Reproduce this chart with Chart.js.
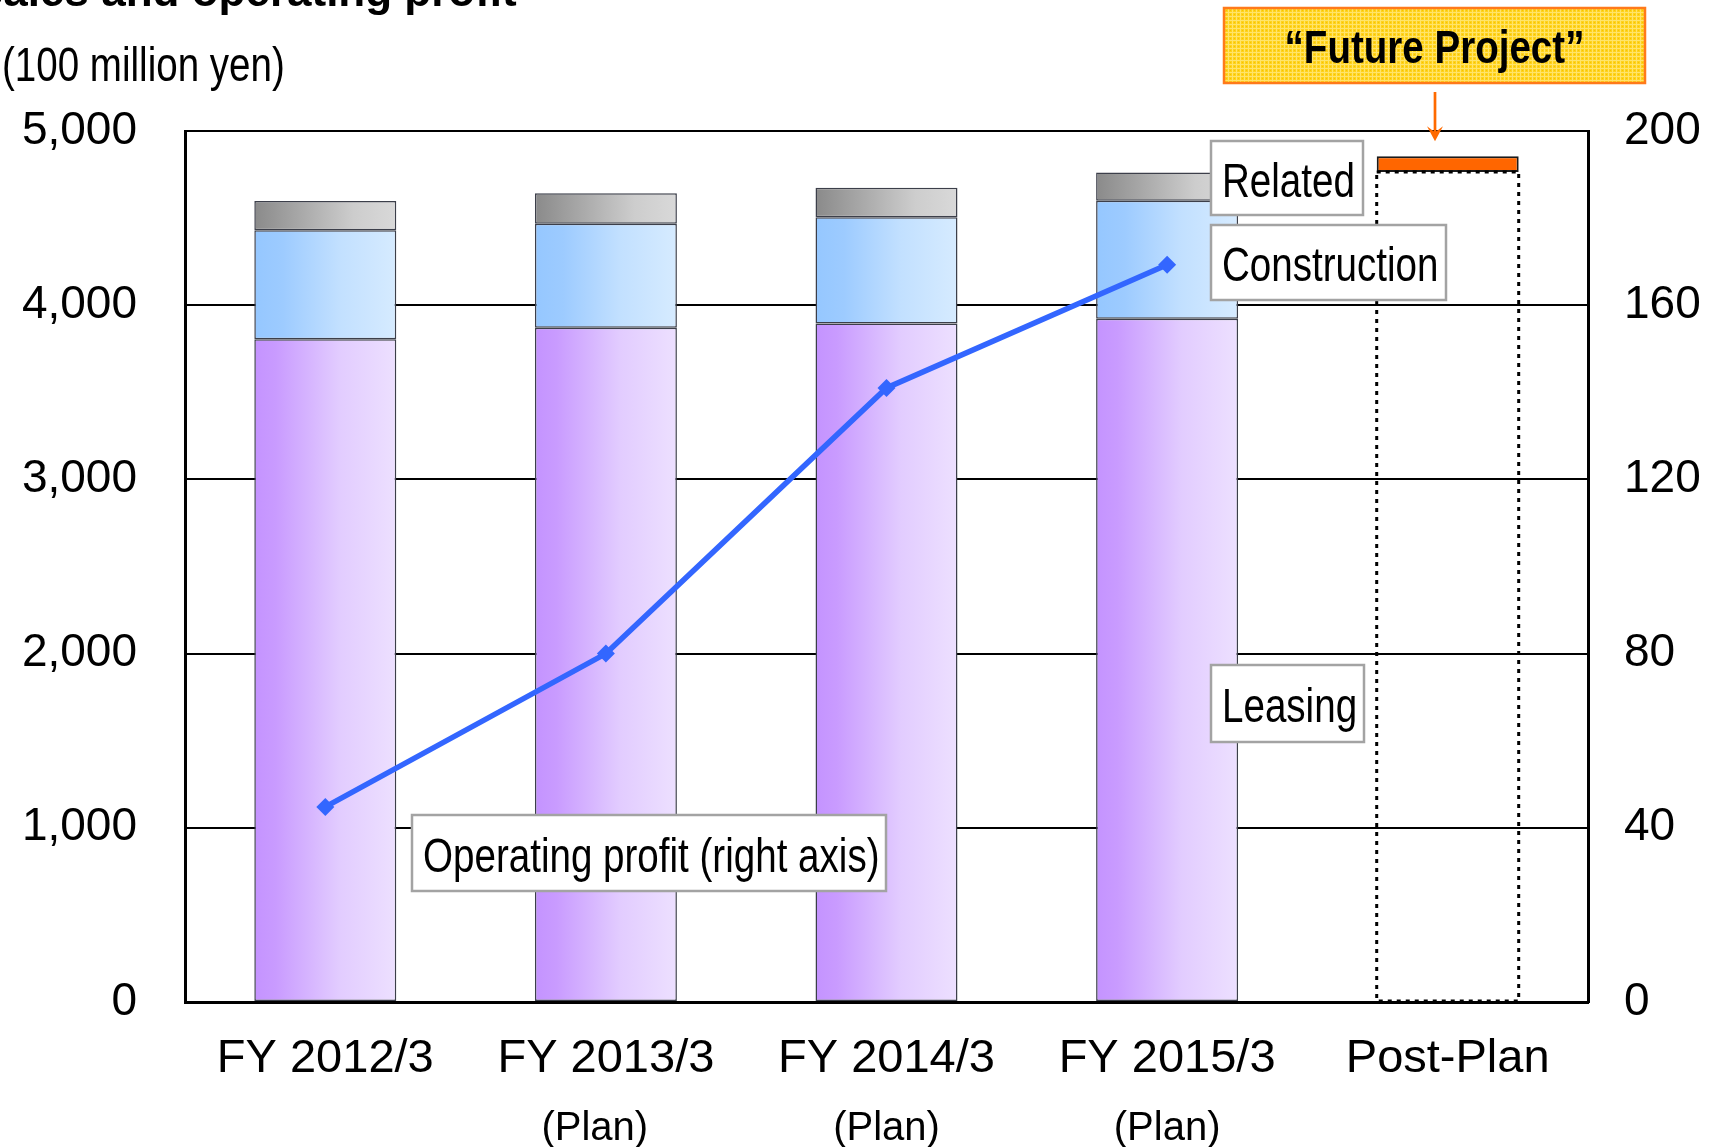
<!DOCTYPE html>
<html><head><meta charset="utf-8">
<script src="https://cdn.jsdelivr.net/npm/chart.js@4.4.1/dist/chart.umd.min.js"></script>
<style>html,body{margin:0;padding:0;background:#fff;overflow:hidden}#wrap{width:1715px;height:1147px;position:relative}canvas{display:block}</style>
</head><body><div id="wrap"><canvas id="c" width="1715" height="1147"></canvas></div>
<script>
// ---------- data ----------
const categories = ['FY 2012/3', 'FY 2013/3', 'FY 2014/3', 'FY 2015/3', 'Post-Plan'];
const planLabels = ['', '(Plan)  ', '(Plan)', '(Plan)', ''];
const leasing = [3805, 3870, 3895, 3922, null];
const construction = [625, 597, 610, 678, null];
const related = [168, 175, 169, 162, null];
const postPlanBase = [null, null, null, null, 4765];
const futureProject = [null, null, null, null, 90];
const operatingProfit = [44.8, 80, 141, 169.3, null];
const leftTicks = [0, 1000, 2000, 3000, 4000, 5000];
const rightTicks = [0, 40, 80, 120, 160, 200];

// ---------- styling ----------
const FONT = "'Liberation Sans', Arial, Helvetica, sans-serif";
const NARROW = 0.82;
const BAR_PCT = 0.506;
Chart.defaults.font.family = FONT;
Chart.defaults.color = '#000';

function barGradient(stops) {
  return (c) => {
    const chart = c.chart;
    const xs = chart.scales && chart.scales.x;
    if (!xs || c.type !== 'data' || !xs.width) return stops[0][1];
    const cx = xs.getPixelForValue(c.dataIndex);
    const w = (xs.width / categories.length) * BAR_PCT;
    const g = chart.ctx.createLinearGradient(cx - w / 2, 0, cx + w / 2, 0);
    stops.forEach(([o, col]) => g.addColorStop(o, col));
    return g;
  };
}
const leasingGrad = barGradient([[0, '#C493FF'], [0.15, '#C99BFF'], [0.6, '#E2CCFF'], [1, '#EDE0FF']]);
const constructionGrad = barGradient([[0, '#95C7FF'], [0.2, '#9DCBFF'], [0.6, '#C2E0FF'], [1, '#D6EBFF']]);
const relatedGrad = barGradient([[0, '#8A8A8A'], [0.3, '#A6A6A6'], [0.7, '#CDCDCD'], [1, '#D9D9D9']]);

function narrowText(ctx, text, x, y, size, weight, align, squeeze) {
  const k = squeeze || NARROW;
  ctx.save();
  ctx.font = `${weight} ${size}px ${FONT}`;
  ctx.textBaseline = 'middle';
  ctx.textAlign = 'left';
  const w = ctx.measureText(text).width * k;
  let sx = x;
  if (align === 'center') sx = x - w / 2; else if (align === 'right') sx = x - w;
  ctx.translate(sx, y);
  ctx.scale(k, 1);
  ctx.fillStyle = '#000';
  ctx.fillText(text, 0, 0);
  ctx.restore();
}

function labelBox(ctx, text, x, y, w, h) {
  ctx.save();
  ctx.fillStyle = '#fff';
  ctx.fillRect(x, y, w, h);
  ctx.lineWidth = 2.5;
  ctx.strokeStyle = '#A3A3A3';
  ctx.strokeRect(x, y, w, h);
  ctx.restore();
  narrowText(ctx, text, x + 11, y + h / 2 + 5, 49, 'normal', 'left', 0.787);
}

function yellowPattern(ctx) {
  const t = document.createElement('canvas');
  t.width = 4; t.height = 4;
  const p = t.getContext('2d');
  p.fillStyle = '#FFD21C'; p.fillRect(0, 0, 4, 4);
  p.fillStyle = '#FFE46A'; p.fillRect(0, 0, 4, 1); p.fillRect(0, 0, 1, 4);
  p.fillStyle = '#F5C400'; p.fillRect(2, 2, 1, 1);
  return ctx.createPattern(t, 'repeat');
}

const decor = {
  id: 'decor',
  afterDatasetsDraw(chart) {
    const ctx = chart.ctx;
    // dotted outline for the post-plan base
    const baseMeta = chart.getDatasetMeta(3);
    const el = baseMeta.data[4];
    if (el) {
      const p = el.getProps(['x', 'y', 'base', 'width'], true);
      ctx.save();
      ctx.setLineDash([4, 5]);
      ctx.lineWidth = 3;
      ctx.strokeStyle = '#000';
      ctx.strokeRect(p.x - p.width / 2, p.y, p.width, p.base - p.y);
      ctx.restore();
    }
    // labels
    labelBox(ctx, 'Related', 1211, 141, 152, 74);
    labelBox(ctx, 'Construction', 1211, 225, 235, 75);
    labelBox(ctx, 'Leasing', 1211, 665, 153, 77);
    labelBox(ctx, 'Operating profit (right axis)', 412, 815, 474, 76);
  },
  afterDraw(chart) {
    const ctx = chart.ctx;
    // title (clipped at top edge, as in the source)
    ctx.save();
    ctx.font = `bold 44px ${FONT}`;
    ctx.textBaseline = 'alphabetic';
    ctx.textAlign = 'left';
    ctx.fillStyle = '#000';
    ctx.fillText('Sales and operating profit', -26, 6);
    ctx.restore();
    // unit
    narrowText(ctx, '(100 million yen)', 2, 68, 48, 'normal', 'left', 0.803);
    // Future project callout
    const fMeta = chart.getDatasetMeta(4);
    const fe = fMeta.data[4];
    const bx = 1224, by = 8, bw = 421, bh = 75;
    ctx.save();
    ctx.fillStyle = yellowPattern(ctx);
    ctx.fillRect(bx, by, bw, bh);
    ctx.lineWidth = 2.5;
    ctx.strokeStyle = '#FF7A1A';
    ctx.strokeRect(bx, by, bw, bh);
    ctx.restore();
    narrowText(ctx, '\u201CFuture Project\u201D', bx + bw / 2, by + bh / 2 + 5, 47, 'bold', 'center');
    if (fe) {
      const ax = 1435;
      const y0 = by + bh + 9;
      const y1 = fe.y - 15;
      ctx.save();
      ctx.strokeStyle = '#FF6A00';
      ctx.fillStyle = '#FF6A00';
      ctx.lineWidth = 2.7;
      ctx.beginPath(); ctx.moveTo(ax, y0); ctx.lineTo(ax, y1 - 8); ctx.stroke();
      ctx.beginPath();
      ctx.moveTo(ax, y1);
      ctx.lineTo(ax - 8, y1 - 15);
      ctx.lineTo(ax, y1 - 9);
      ctx.lineTo(ax + 8, y1 - 15);
      ctx.closePath(); ctx.fill();
      ctx.restore();
    }
  }
};

const barBorder = '#3C3F4A';
new Chart(document.getElementById('c'), {
  type: 'bar',
  data: {
    labels: categories,
    datasets: [
      { label: 'Leasing', data: leasing, backgroundColor: leasingGrad, borderColor: barBorder, borderWidth: 1.5, borderSkipped: false, order: 2 },
      { label: 'Construction', data: construction, backgroundColor: constructionGrad, borderColor: barBorder, borderWidth: 1.5, borderSkipped: false, order: 2 },
      { label: 'Related', data: related, backgroundColor: relatedGrad, borderColor: barBorder, borderWidth: 1.5, borderSkipped: false, order: 2 },
      { label: 'Post-Plan existing', data: postPlanBase, backgroundColor: 'rgba(0,0,0,0)', borderWidth: 0, order: 2 },
      { label: 'Future Project', data: futureProject, backgroundColor: '#FF6600', borderColor: '#1a1a1a', borderWidth: 2, borderSkipped: false, order: 2 },
      { type: 'line', label: 'Operating profit', data: operatingProfit, yAxisID: 'y1', borderColor: '#3366FF', backgroundColor: '#3366FF',
        borderWidth: 5.5, pointStyle: 'rectRot', pointRadius: 9, pointBorderWidth: 0, spanGaps: false, tension: 0, order: 0 }
    ]
  },
  options: {
    responsive: false,
    animation: false,
    devicePixelRatio: 1,
    datasets: { bar: { barPercentage: BAR_PCT, categoryPercentage: 1 } },
    layout: { padding: { top: 131, left: 0, right: 0, bottom: 0 } },
    plugins: { legend: { display: false }, tooltip: { enabled: false }, title: { display: false } },
    scales: {
      x: {
        stacked: true, offset: true, weight: 0,
        grid: { display: false },
        border: { display: true, color: '#000', width: 3 },
        ticks: { font: { size: 47 }, color: '#000', padding: 21, maxRotation: 0, autoSkip: false },
        afterFit(s) { s.height = 90; }
      },
      x2: {
        type: 'category', labels: planLabels, position: 'bottom', offset: true, weight: 1,
        grid: { display: false }, border: { display: false },
        ticks: { font: { size: 40 }, color: '#000', padding: 5, maxRotation: 0, autoSkip: false },
        afterFit(s) { s.height = 55; }
      },
      y: {
        stacked: true, min: 0, max: 5000,
        afterBuildTicks(s) { s.ticks = leftTicks.map(v => ({ value: v })); },
        grid: { color: '#000', lineWidth: 2, drawTicks: false },
        border: { display: true, color: '#000', width: 3 },
        ticks: { font: { size: 46 }, color: '#000', padding: 48, callback: v => v.toLocaleString('en-US') },
        afterFit(s) { s.width = 185; }
      },
      y1: {
        position: 'right', min: 0, max: 200,
        afterBuildTicks(s) { s.ticks = rightTicks.map(v => ({ value: v })); },
        grid: { drawOnChartArea: false, drawTicks: false },
        border: { display: true, color: '#000', width: 3 },
        ticks: { font: { size: 46 }, color: '#000', padding: 36 },
        afterFit(s) { s.width = 127; }
      }
    }
  },
  plugins: [decor]
});
</script>
</body></html>
